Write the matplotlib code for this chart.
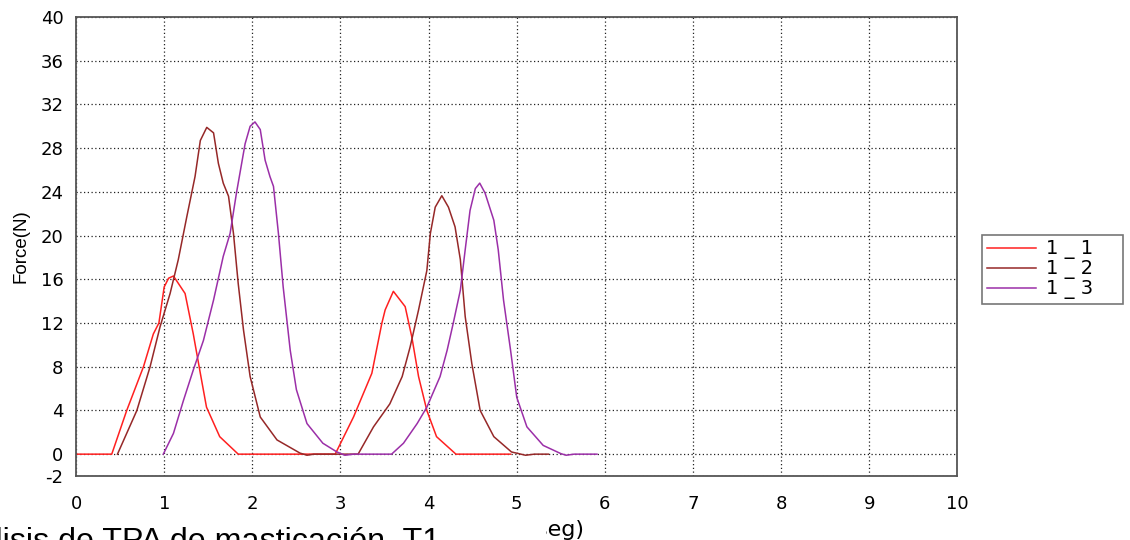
import matplotlib
matplotlib.use("Agg")
import matplotlib.pyplot as plt
from matplotlib.patches import Rectangle

# Force-time curves of the TPA chewing test, three replicates
t_11 = [0, 0.405, 0.575, 0.765, 0.877, 0.94, 1.0, 1.05, 1.105, 1.237, 1.33, 1.41, 1.48,
        1.63, 1.84, 2.94, 3.148, 3.356, 3.47, 3.507, 3.60, 3.734, 3.81, 3.886, 3.98,
        4.09, 4.31, 4.93]
f_11 = [0, 0, 4.0, 8.0, 11.0, 12.0, 15.3, 16.1, 16.3, 14.7, 11.0, 7.4, 4.3,
        1.6, 0, 0, 3.4, 7.4, 12.0, 13.2, 14.9, 13.5, 10.7, 7.1, 4.0,
        1.6, 0, 0]

t_12 = [0.47, 0.69, 0.84, 0.953, 1.067, 1.16, 1.256, 1.35, 1.41, 1.483, 1.56, 1.615,
        1.67, 1.73, 1.786, 1.84, 1.9, 1.975, 2.09, 2.28, 2.54, 2.62, 2.7, 3.2, 3.375,
        3.56, 3.7, 3.79, 3.886, 3.98, 4.02, 4.075, 4.15, 4.225, 4.3, 4.36, 4.415, 4.49,
        4.585, 4.74, 4.94, 5.1, 5.2, 5.36]
f_12 = [0, 4.0, 8.0, 11.65, 14.7, 17.8, 21.7, 25.4, 28.7, 29.9, 29.4, 26.6,
        24.8, 23.6, 20.2, 15.6, 11.35, 7.1, 3.4, 1.3, 0.1, -0.1, 0, 0, 2.5,
        4.6, 7.1, 9.8, 13.2, 16.8, 20.2, 22.6, 23.65, 22.6, 20.8, 17.8, 12.6, 8.3,
        4.0, 1.6, 0.2, -0.1, 0, 0]

t_13 = [0.99, 1.105, 1.218, 1.33, 1.445, 1.56, 1.67, 1.748, 1.82, 1.918, 1.975, 2.03,
        2.09, 2.145, 2.2, 2.24, 2.296, 2.35, 2.43, 2.5, 2.62, 2.8, 2.96, 3.05, 3.15,
        3.58, 3.715, 3.87, 3.98, 4.13, 4.21, 4.28, 4.36, 4.415, 4.47, 4.53, 4.58, 4.64,
        4.74, 4.79, 4.85, 4.93, 5.0, 5.115, 5.3, 5.5, 5.56, 5.65, 5.91]
f_13 = [0, 1.9, 4.9, 7.7, 10.4, 14.1, 18.1, 20.2, 23.9, 28.4, 30.0, 30.4,
        29.7, 26.9, 25.4, 24.5, 20.2, 15.3, 9.5, 5.9, 2.8, 1.0, 0.2, -0.1, 0,
        0, 1.0, 2.8, 4.3, 7.1, 9.5, 12.0, 15.0, 18.7, 22.3, 24.3, 24.8, 23.9,
        21.4, 18.7, 14.1, 9.5, 5.2, 2.5, 0.8, 0.05, -0.1, 0, 0]

series_labels = ["1 _ 1", "1 _ 2", "1 _ 3"]
series_colors = ["#FF2020", "#962828", "#9B2FA8"]
x_ticks = list(range(0, 11))
y_ticks = [-2, 0, 4, 8, 12, 16, 20, 24, 28, 32, 36, 40]

plt.rcParams["font.family"] = ["DejaVu Sans"]
plt.rcParams["axes.unicode_minus"] = False

fig = plt.figure(figsize=(11.3, 5.4), dpi=100)
ax = fig.add_axes([0.0673, 0.1185, 0.7800, 0.8500])

for t, f, lab, col in zip([t_11, t_12, t_13], [f_11, f_12, f_13], series_labels, series_colors):
    ax.plot(t, f, color=col, linewidth=1.1, label=lab + "    ")

ax.set_xlim(0, 10)
ax.set_ylim(-2, 40)
ax.set_xticks(x_ticks)
ax.set_yticks(y_ticks)
ax.tick_params(axis="both", length=0, labelsize=13)
ax.tick_params(axis="x", pad=14)
ax.tick_params(axis="y", pad=9)
ax.grid(True, color="#222222", linestyle=(0, (1, 2)), linewidth=0.9)
for sp in ax.spines.values():
    sp.set_color("#555555")
    sp.set_linewidth(1.3)

ax.set_ylabel("Force(N)", fontsize=13.5, family=["Liberation Sans Narrow", "Liberation Sans"])
ax.yaxis.set_label_coords(-0.053, 0.5)

leg = ax.legend(loc="center left", bbox_to_anchor=(1.028, 0.45), fontsize=14,
                frameon=True, fancybox=False, handlelength=2.5, handletextpad=0.55,
                borderpad=0.25, labelspacing=0.0, borderaxespad=0)
leg.get_frame().set_edgecolor("#555555")
leg.get_frame().set_linewidth(1.2)

# axis label, partly hidden under the caption strip
fig.text(584 / 1130, 1 - 530 / 540, "Tiempo(seg)", ha="right", va="center", fontsize=16)
fig.patches.append(Rectangle((0, 0), 546 / 1130, 1 - 512 / 540, transform=fig.transFigure,
                             facecolor="white", edgecolor="none", zorder=5))
fig.text(440 / 1130, 1 - 550 / 540, "Análisis de TPA de masticación  T1", ha="right",
         va="baseline", fontsize=23.2, family=["Liberation Sans", "DejaVu Sans"], zorder=6)

fig.savefig("out.png", dpi=100)
